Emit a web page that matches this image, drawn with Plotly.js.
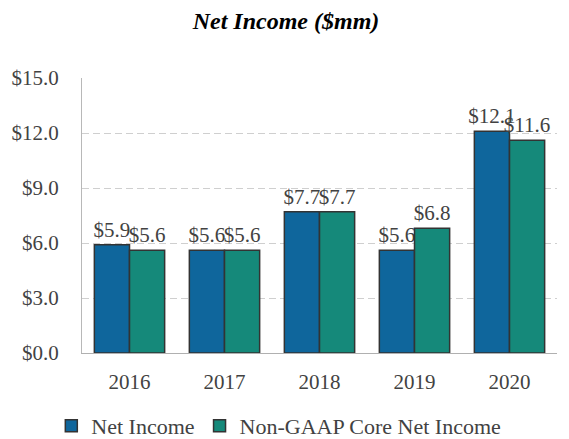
<!DOCTYPE html>
<html>
<head>
<meta charset="utf-8">
<script src="https://cdn.plot.ly/plotly-3.0.1.min.js"></script>
<style>html,body{margin:0;padding:0;background:#fff;}#chart{width:569px;height:439px;}</style>
</head>
<body>
<div id="chart"></div>
<script>
const years = ['2016', '2017', '2018', '2019', '2020'];
const netIncome = [5.9, 5.6, 7.7, 5.6, 12.1];
const coreNetIncome = [5.6, 5.6, 7.7, 6.8, 11.6];
const seriesNames = ['Net Income', 'Non-GAAP Core Net Income'];

const font = 'Liberation Serif, Times New Roman, serif';
const textCol = '#424242';

function barTrace(y, name, color) {
  return {
    type: 'bar', x: years, y: y, name: name,
    marker: {color: color, line: {color: '#333', width: 1.5}},
    texttemplate: '$%{y:.1f}', textposition: 'outside', constraintext: 'none',
    cliponaxis: false, textfont: {family: font, size: 21, color: textCol},
    hoverinfo: 'none'
  };
}

const traces = [
  barTrace(netIncome, seriesNames[0], '#0f669c'),
  barTrace(coreNetIncome, seriesNames[1], '#15897a')
];

const layout = {
  width: 569, height: 439,
  margin: {l: 82, r: 12, t: 78, b: 86},
  paper_bgcolor: '#fff', plot_bgcolor: '#fff',
  font: {family: font, size: 21, color: textCol},
  title: {
    text: '<b><i>Net Income ($mm)</i></b>',
    font: {family: font, size: 24, color: '#000'},
    xref: 'container', x: 286 / 569, xanchor: 'center',
    yref: 'container', y: 1 - 21 / 439, yanchor: 'middle'
  },
  barmode: 'group', bargap: 0.26, bargroupgap: 0,
  showlegend: true,
  legend: {
    orientation: 'h', xref: 'container', x: 0.49, xanchor: 'center',
    yref: 'container', y: 1 - 426 / 439, yanchor: 'middle',
    font: {family: font, size: 22, color: textCol},
    itemwidth: 30, traceorder: 'normal'
  },
  xaxis: {
    type: 'category', automargin: false, tickangle: 0,
    ticks: '', ticklabelstandoff: 10,
    tickfont: {family: font, size: 21, color: textCol},
    showline: true, linecolor: '#b0b0b0', linewidth: 1,
    showgrid: false, zeroline: false, fixedrange: true
  },
  yaxis: {
    range: [0, 15], dtick: 3, tick0: 0, automargin: false,
    tickprefix: '$', tickformat: '.1f',
    showline: true, linecolor: '#b8b8b8', linewidth: 1,
    showgrid: true, gridcolor: '#cfcfcf', griddash: '7px,4px', gridwidth: 1,
    zeroline: false, ticks: '', ticklabelstandoff: 18,
    tickfont: {family: font, size: 21, color: textCol}, fixedrange: true
  }
};

Plotly.newPlot('chart', traces, layout, {staticPlot: true, displayModeBar: false});
</script>
</body>
</html>
